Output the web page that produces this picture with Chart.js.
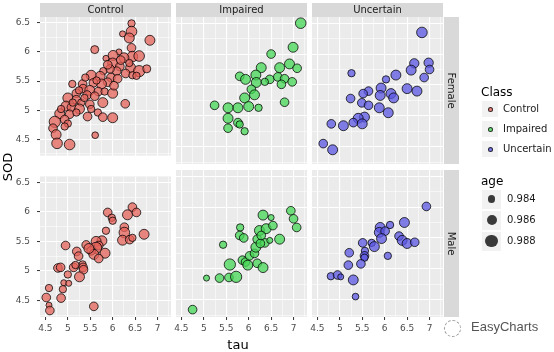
<!DOCTYPE html>
<html>
<head>
<meta charset="UTF-8">
<title>SOD vs tau</title>
<script src="https://cdn.jsdelivr.net/npm/chart.js@4.4.0/dist/chart.umd.min.js"></script>
<style>
  body { margin: 0; background: #fff; font-family: 'DejaVu Sans', sans-serif; }
  #page { position: relative; width: 554px; height: 352px; overflow: hidden; }
  canvas { position: absolute; z-index: 1; }
  .lbl { position: absolute; z-index: 3; white-space: nowrap; }
  .key { position: absolute; z-index: 2; background: #F2F2F2; }
  .dot { position: absolute; z-index: 3; border-radius: 50%; box-sizing: border-box; }
</style>
</head>
<body>
<div id="page"></div>

<script>
  // facet labels
  var classes = ['Control', 'Impaired', 'Uncertain'];
  var sexes = ['Female', 'Male'];
  var ageBreaks = [0.984, 0.986, 0.988];
  var tauRange = [4.38, 7.3];
  var sodRange = [4.22, 6.6];

  // [tau, SOD, age]
  var controlFemale = [
    [6.42,6.49,0.9835],[6.42,6.35,0.986],[6.37,6.24,0.9855],[6.22,6.31,0.9825],[6.83,6.20,0.9855],
    [5.60,6.04,0.984],[6.42,6.07,0.9845],[6.14,6.00,0.9825],[6.01,5.94,0.9855],[5.85,5.89,0.9825],
    [6.44,5.92,0.986],[6.25,5.90,0.9855],[6.59,5.93,0.986],[6.00,5.81,0.9855],[6.16,5.75,0.9845],
    [6.40,5.73,0.9855],[6.59,5.67,0.9865],[6.76,5.71,0.984],[6.29,5.63,0.9845],[6.44,5.60,0.9835],
    [6.09,5.67,0.9845],[5.94,5.71,0.9845],[5.79,5.67,0.9835],[5.72,5.58,0.9855],[5.52,5.60,0.9855],
    [5.96,5.56,0.9845],[6.11,5.54,0.9845],[5.89,5.48,0.9845],[5.75,5.45,0.9855],[5.57,5.47,0.9845],
    [5.33,5.45,0.9845],[5.10,5.45,0.9835],[5.34,5.37,0.9845],[5.49,5.34,0.9855],[5.68,5.32,0.9845],
    [5.82,5.32,0.9835],[6.00,5.29,0.9855],[6.03,5.42,0.9845],[5.19,5.29,0.9845],[5.43,5.26,0.9845],
    [5.00,5.21,0.9855],[5.19,5.18,0.9845],[5.30,5.13,0.9835],[5.49,5.10,0.9845],[5.78,5.13,0.9855],
    [6.28,5.11,0.9845],[4.96,5.07,0.9855],[5.08,5.05,0.9845],[5.26,5.02,0.9855],[5.52,5.02,0.9835],
    [5.67,4.96,0.9835],[5.44,4.89,0.9845],[5.78,4.88,0.9845],[6.00,4.87,0.9855],[4.82,4.94,0.9855],
    [5.04,4.93,0.9845],[5.19,4.96,0.9835],[4.93,4.84,0.9845],[4.71,4.80,0.9865],[5.00,4.77,0.9835],
    [4.67,4.69,0.9845],[4.93,4.72,0.9835],[4.74,4.58,0.9855],[4.76,4.43,0.986],[5.04,4.41,0.986],
    [5.61,4.57,0.983],[5.39,5.56,0.9835],[5.64,5.51,0.9835],[5.25,5.34,0.9835],[5.60,5.24,0.9845],
    [5.37,5.21,0.9835],[5.89,5.78,0.9845],[6.18,5.86,0.9845],[6.37,5.81,0.9835],[6.53,5.59,0.9835],
    [5.11,5.13,0.9835],[4.85,5.02,0.9835]
  ];
  var impairedFemale = [
    [7.16,6.50,0.986],[6.99,6.11,0.9855],[6.50,6.00,0.9845],[6.28,5.78,0.9855],[6.69,5.78,0.9855],
    [6.91,5.84,0.9855],[7.08,5.77,0.9845],[5.80,5.64,0.9845],[5.93,5.59,0.9855],[6.16,5.66,0.9855],
    [6.47,5.59,0.9845],[6.65,5.63,0.9845],[6.80,5.60,0.9845],[6.97,5.55,0.9845],[6.73,5.51,0.9845],
    [6.17,5.54,0.9855],[6.36,5.55,0.9835],[6.06,5.43,0.9845],[6.13,5.34,0.9855],[5.91,5.29,0.9855],
    [6.00,5.15,0.9855],[5.76,5.13,0.9855],[5.54,5.13,0.9855],[6.22,5.13,0.9835],[6.80,5.22,0.9845],
    [5.24,5.17,0.9845],[5.54,4.96,0.9855],[5.76,4.89,0.9845],[5.54,4.80,0.9845],[5.91,4.75,0.9835],
    [5.80,4.86,0.9835]
  ];
  var uncertainFemale = [
    [6.83,6.35,0.986],[6.66,5.85,0.985],[6.98,5.86,0.985],[6.59,5.74,0.9855],[7.00,5.75,0.9845],
    [6.88,5.62,0.9845],[5.26,5.69,0.9835],[6.03,5.59,0.9835],[6.25,5.66,0.9855],[5.92,5.45,0.9855],
    [5.64,5.40,0.9845],[5.52,5.36,0.9845],[5.90,5.33,0.9855],[6.14,5.36,0.9855],[6.20,5.29,0.9855],
    [6.50,5.44,0.9855],[6.72,5.40,0.9855],[5.24,5.28,0.9845],[5.49,5.21,0.9845],[5.64,5.17,0.9845],
    [5.88,5.13,0.9855],[6.08,5.05,0.9855],[5.55,4.98,0.9855],[5.41,4.96,0.9855],[5.30,4.89,0.9845],
    [5.50,4.87,0.9855],[5.08,4.84,0.9855],[4.81,4.87,0.9845],[4.63,4.55,0.9845],[4.84,4.45,0.9855]
  ];
  var controlMale = [
    [6.44,6.08,0.9845],[6.33,5.95,0.9855],[6.53,5.99,0.9845],[5.89,5.99,0.9845],[5.98,5.90,0.9835],
    [6.00,5.85,0.9835],[5.85,5.68,0.9835],[6.26,5.74,0.9845],[6.26,5.65,0.986],[6.22,5.52,0.9855],
    [6.38,5.53,0.9845],[6.44,5.56,0.9835],[6.70,5.62,0.9855],[5.76,5.51,0.9855],[5.63,5.50,0.9855],
    [5.69,5.43,0.9845],[5.63,5.39,0.9865],[5.41,5.44,0.9845],[5.52,5.34,0.9845],[5.58,5.28,0.9855],
    [5.83,5.30,0.9855],[5.69,5.21,0.9845],[5.20,5.33,0.9845],[5.24,5.25,0.9845],[4.95,5.43,0.9845],
    [5.33,5.11,0.9835],[5.34,5.06,0.9845],[5.13,5.06,0.9845],[5.17,5.10,0.9835],[4.78,5.05,0.9845],
    [4.84,5.06,0.9845],[5.35,5.02,0.9845],[5.26,4.90,0.9855],[5.00,4.94,0.9835],[4.91,4.80,0.9825],
    [5.02,4.79,0.9825],[4.89,4.69,0.9835],[4.58,4.71,0.9835],[4.52,4.55,0.9845],[4.85,4.54,0.9845],
    [4.58,4.42,0.9825],[4.60,4.33,0.9845],[5.58,4.40,0.9845],[5.47,5.38,0.9855]
  ];
  var impairedMale = [
    [4.75,4.34,0.9845],[5.06,4.85,0.9825],[5.35,4.85,0.9845],[5.56,4.86,0.9845],[5.72,4.87,0.9865],
    [5.58,5.07,0.9865],[5.43,5.39,0.9835],[5.81,5.67,0.9835],[5.80,5.54,0.9845],[5.89,5.50,0.9845],
    [5.86,5.14,0.9845],[5.93,5.11,0.9845],[5.98,5.06,0.9855],[6.02,5.21,0.9845],[6.13,5.25,0.9845],
    [6.16,5.35,0.9855],[6.19,5.48,0.9845],[6.24,5.62,0.9855],[6.32,5.87,0.9855],[6.39,5.65,0.9855],
    [6.50,5.83,0.9825],[6.54,5.70,0.9845],[6.36,5.42,0.9845],[6.26,5.41,0.9845],[6.19,5.09,0.9845],
    [6.32,5.02,0.9855],[6.47,5.46,0.9825],[6.69,5.48,0.9855],[6.94,5.94,0.9845],[7.00,5.81,0.9845],
    [7.07,5.67,0.9845],[6.28,5.54,0.9845]
  ];
  var uncertainMale = [
    [6.93,6.01,0.9845],[6.44,5.75,0.9855],[6.12,5.71,0.9835],[5.90,5.67,0.9855],[5.88,5.59,0.9855],
    [6.01,5.61,0.9845],[5.93,5.49,0.9855],[6.32,5.53,0.9845],[6.39,5.46,0.9855],[6.50,5.41,0.9855],
    [6.67,5.43,0.9845],[5.71,5.42,0.9835],[5.77,5.36,0.9855],[5.51,5.42,0.9845],[5.56,5.29,0.9835],
    [5.55,5.21,0.9845],[5.55,5.18,0.9835],[5.21,5.26,0.9845],[6.07,5.21,0.9835],[5.47,5.08,0.9845],
    [5.19,5.06,0.9845],[4.80,4.88,0.9835],[4.95,4.90,0.9845],[5.02,4.87,0.9825],[5.30,4.82,0.9855],
    [5.35,4.55,0.983]
  ];

  var panels = [
    [controlFemale, impairedFemale, uncertainFemale],
    [controlMale, impairedMale, uncertainMale]
  ];

  var fills = ['rgba(228,98,90,0.75)', 'rgba(70,215,85,0.75)', 'rgba(90,85,225,0.75)'];
  var edge = 'rgba(0,0,0,0.75)';

  // size scale: age -> radius in px
  var ageToR = function(a) { return 4.0 + (a - 0.984) * 650; };

  var isMajor = function(v) { return Math.abs(v * 2 - Math.round(v * 2)) < 1e-6; };

  // layout of the facet grid
  var colLeft = [40, 176, 312];
  var rowTop = [17, 170];
  var panelW = 131, panelH = 147, axisW = 40;
  var stripH = 14, stripW = 15;

  var page = document.getElementById('page');

  var addDiv = function(cls, css, text) {
    var d = document.createElement('div');
    d.className = cls;
    d.style.cssText = css;
    if (text) d.textContent = text;
    page.appendChild(d);
    return d;
  };

  var panelBg = {
    id: 'panelBg',
    beforeDraw: function(chart) {
      var a = chart.chartArea, ctx = chart.ctx;
      ctx.save();
      ctx.fillStyle = '#EBEBEB';
      ctx.fillRect(a.left, a.top, a.right - a.left, a.bottom - a.top);
      ctx.restore();
    }
  };

  // facet strips above / right of the panel
  var facetStrip = {
    id: 'facetStrip',
    afterDraw: function(chart, args, opts) {
      var a = chart.chartArea, ctx = chart.ctx;
      ctx.save();
      ctx.font = '10px "DejaVu Sans"';
      ctx.textAlign = 'center';
      ctx.textBaseline = 'middle';
      if (opts.top) {
        ctx.fillStyle = '#D9D9D9';
        ctx.fillRect(a.left, a.top - stripH, a.right - a.left, stripH);
        ctx.fillStyle = '#1A1A1A';
        ctx.fillText(opts.top, (a.left + a.right) / 2, a.top - stripH / 2 + 0.5);
      }
      if (opts.right) {
        ctx.fillStyle = '#D9D9D9';
        ctx.fillRect(a.right + 1, a.top, stripW, a.bottom - a.top);
        ctx.translate(a.right + 1 + stripW / 2, (a.top + a.bottom) / 2);
        ctx.rotate(Math.PI / 2);
        ctx.fillStyle = '#1A1A1A';
        ctx.fillText(opts.right, 0, 0.5);
      }
      ctx.restore();
    }
  };

  var axisOpts = function(range, showLabels, fitFn) {
    return {
      type: 'linear',
      min: range[0],
      max: range[1],
      afterFit: fitFn,
      border: { display: false },
      grid: {
        color: '#FFFFFF',
        lineWidth: function(c) { return c.tick && isMajor(c.tick.value) ? 1.1 : 0.55; },
        drawTicks: showLabels,
        tickLength: 3,
        tickWidth: 1,
        tickColor: function(c) { return c.tick && isMajor(c.tick.value) ? '#333333' : 'rgba(0,0,0,0)'; }
      },
      ticks: {
        display: showLabels,
        stepSize: 0.25,
        includeBounds: false,
        autoSkip: false,
        maxRotation: 0,
        padding: 3,
        color: '#4D4D4D',
        font: { family: 'DejaVu Sans', size: 9 },
        callback: function(v) { return isMajor(v) ? String(v) : ''; }
      }
    };
  };

  for (var r = 0; r < 2; r++) {
    for (var c = 0; c < 3; c++) {
      var bottom = (r == 1);
      var first = (r == 0);
      var left = (c == 0);
      var last = (c == 2);
      var padTop = first ? stripH : 6;
      var padRight = last ? stripW + 3 : 4;
      var cv = document.createElement('canvas');
      cv.width = axisW + panelW + padRight;
      cv.height = padTop + panelH + (bottom ? 20 : 4);
      cv.style.left = (colLeft[c] - axisW) + 'px';
      cv.style.top = (rowTop[r] - padTop) + 'px';
      page.appendChild(cv);

      var xs = axisOpts(tauRange, bottom, (function(b) {
        return function(s) { s.height = b ? 20 : 0; };
      })(bottom));
      var ys = axisOpts(sodRange, left, function(s) { s.width = axisW; });
      ys.ticks.padding = 7;

      new Chart(cv, {
        type: 'bubble',
        data: {
          datasets: [{
            label: classes[c],
            data: panels[r][c].map(function(p) { return { x: p[0], y: p[1], r: ageToR(p[2]) }; }),
            backgroundColor: fills[c],
            borderColor: edge,
            borderWidth: 1
          }]
        },
        options: {
          responsive: false,
          animation: false,
          events: [],
          layout: { autoPadding: false, padding: { top: padTop, right: padRight, bottom: bottom ? 0 : 4, left: 0 } },
          plugins: {
            legend: { display: false },
            tooltip: { enabled: false },
            facetStrip: { top: first ? classes[c] : null, right: last ? sexes[r] : null }
          },
          scales: { x: xs, y: ys }
        },
        plugins: [panelBg, facetStrip]
      });
    }
  }

  // axis titles
  addDiv('lbl', 'left:-12px;top:159px;width:40px;height:16px;line-height:16px;text-align:center;font-size:13px;color:#000;transform:rotate(-90deg);', 'SOD');
  addDiv('lbl', 'left:218px;top:337px;width:40px;height:16px;line-height:16px;text-align:center;font-size:13px;color:#000;', 'tau');

  // legend: Class
  addDiv('lbl', 'left:481px;top:84px;font-size:12px;line-height:16px;color:#000;', 'Class');
  for (var i = 0; i < classes.length; i++) {
    var cy = 109 + i * 20;
    addDiv('key', 'left:482px;top:' + (cy - 8) + 'px;width:16px;height:16px;');
    addDiv('dot', 'left:' + (490 - 2.5) + 'px;top:' + (cy - 2.5) + 'px;width:5px;height:5px;background:' + fills[i] + ';border:1px solid ' + edge + ';');
    addDiv('lbl', 'left:503px;top:' + (cy - 7) + 'px;font-size:10px;line-height:14px;color:#1A1A1A;', classes[i]);
  }

  // legend: age
  addDiv('lbl', 'left:481px;top:173px;font-size:12px;line-height:16px;color:#000;', 'age');
  for (var i = 0; i < ageBreaks.length; i++) {
    var cy = 199 + i * 21;
    var rr = ageToR(ageBreaks[i]) - 0.3;
    addDiv('key', 'left:482px;top:' + (cy - 9.5) + 'px;width:19px;height:19px;');
    addDiv('dot', 'left:' + (491.5 - rr) + 'px;top:' + (cy - rr) + 'px;width:' + (2 * rr) + 'px;height:' + (2 * rr) + 'px;background:#3A3A3A;');
    addDiv('lbl', 'left:507px;top:' + (cy - 7) + 'px;font-size:10px;line-height:14px;color:#1A1A1A;', ageBreaks[i].toFixed(3));
  }

  // watermark
  addDiv('dot', 'left:444px;top:320px;width:17px;height:17px;border:1px dashed #9A9A9A;');
  addDiv('lbl', 'left:471px;top:319px;font-family:"Liberation Sans",sans-serif;font-size:13px;line-height:16px;color:#555;', 'EasyCharts');
</script>
</body>
</html>
